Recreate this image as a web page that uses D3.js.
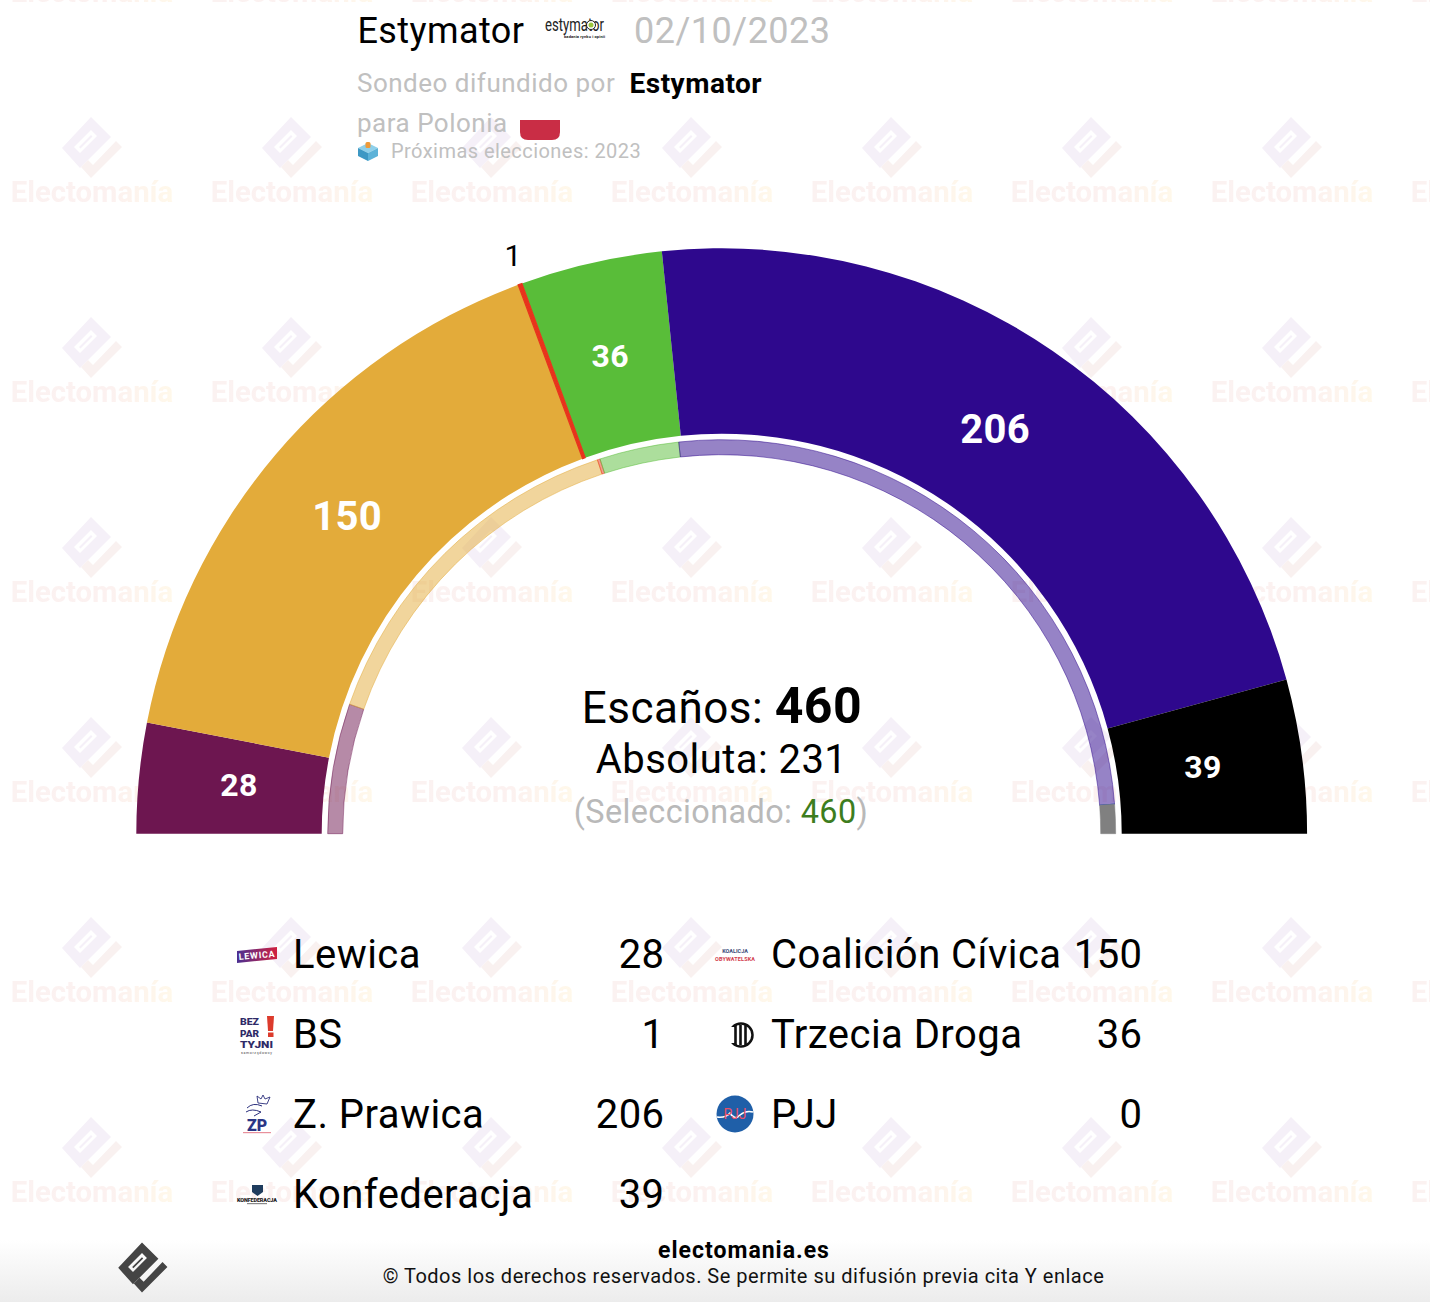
<!DOCTYPE html>
<html>
<head>
<meta charset="utf-8">
<script src="https://cdn.jsdelivr.net/npm/d3@7"></script>
<style>
	html, body { margin: 0; padding: 0; background: #fff; overflow: hidden; }
	text { font-family: Roboto, sans-serif; }
</style>
</head>
<body>
<div id="chart"></div>
<script>
const parties = ["Lewica", "Coalición Cívica", "BS", "Trzecia Droga", "Z. Prawica", "PJJ", "Konfederacja"];
const seats = [28, 150, 1, 36, 206, 0, 39];
const previousSeats = [49, 134, 1, 30, 235, 0, 11];
const colors = ["#6d1650", "#e3ab3a", "#e8341c", "#59bd39", "#2e088d", "#1f5fa8", "#000000"];
const previousColors = ["#6d1650", "#e3ab3a", "#e8341c", "#59bd39", "#2e088d", "#1f5fa8", "#808080"];
const legendLeft = ["Lewica", "BS", "Z. Prawica", "Konfederacja"];
const legendRight = ["Coalición Cívica", "Trzecia Droga", "PJJ"];

const width = 1430, height = 1302;
const cx = 721.7, cy = 833.7;

const svg = d3.select("#chart").append("svg")
	.attr("width", width)
	.attr("height", height)
	.style("display", "block");

const defs = svg.append("defs");

const footGrad = defs.append("linearGradient").attr("id", "foot").attr("x1", 0).attr("x2", 0).attr("y1", 0).attr("y2", 1);
footGrad.append("stop").attr("offset", "0%").attr("stop-color", "#ffffff");
footGrad.append("stop").attr("offset", "100%").attr("stop-color", "#ececec");

const wmGrad = defs.append("linearGradient").attr("id", "wmText").attr("gradientUnits", "userSpaceOnUse")
	.attr("x1", -80).attr("x2", 80).attr("y1", 0).attr("y2", 0);
wmGrad.append("stop").attr("offset", "0%").attr("stop-color", "#fbf2f1");
wmGrad.append("stop").attr("offset", "60%").attr("stop-color", "#fcf1f0");
wmGrad.append("stop").attr("offset", "100%").attr("stop-color", "#fff8ea");

const lewicaGrad = defs.append("linearGradient").attr("id", "lewica");
lewicaGrad.append("stop").attr("offset", "0%").attr("stop-color", "#4a2f92");
lewicaGrad.append("stop").attr("offset", "100%").attr("stop-color", "#d0203f");

// logo outline, centred on 0,0
const logoBody = "M-29,1 L0,-30 L20,-10 L-11,21 Z M-17,0 L0,-17 L6,-11 L-11,6 Z M-12,0 L0,-12 L1.5,-10.5 L-10.5,1.5 Z";
const logoFoot = "M-10,20 L-3,13 L2,18 L25,-6 L31,0 L0,31 Z";

const tile = defs.append("pattern").attr("id", "wm").attr("patternUnits", "userSpaceOnUse")
	.attr("x", -8).attr("y", -53).attr("width", 200).attr("height", 200);
[0, 200].forEach(y => {
	const g = tile.append("g").attr("transform", `translate(100,${y})`);
	g.append("g").attr("transform", "translate(-1,0)").append("path").attr("d", logoBody).attr("fill", "#f5f0f8").attr("fill-rule", "evenodd");
	g.append("g").attr("transform", "translate(-1,0)").append("path").attr("d", logoFoot).attr("fill", "#f9f1f0");
	g.append("text").attr("y", 55).attr("x", 0).attr("text-anchor", "middle")
		.attr("font-size", 29.3).attr("font-weight", 700).attr("fill", "url(#wmText)").text("Electomanía");
});

svg.append("rect").attr("width", width).attr("height", height).attr("fill", "url(#wm)");
svg.append("rect").attr("y", 1240).attr("width", width).attr("height", 62).attr("fill", "url(#foot)");

// header
const header = svg.append("g");
header.append("text").attr("x", 357.5).attr("y", 43).attr("font-size", 36).attr("letter-spacing", 0.4).attr("fill", "#000").text("Estymator");
header.append("text").attr("x", 634).attr("y", 43).attr("font-size", 36).attr("letter-spacing", 0.5).attr("fill", "#c0c0c0").text("02/10/2023");
header.append("text").attr("x", 545).attr("y", 31).attr("font-size", 18).attr("font-family", "Liberation Sans Narrow, Liberation Sans")
	.attr("textLength", 59).attr("lengthAdjust", "spacingAndGlyphs").attr("fill", "#222").text("estymator");
header.append("circle").attr("cx", 591).attr("cy", 25).attr("r", 4.5).attr("fill", "#fff").attr("stroke", "#222").attr("stroke-width", 1);
header.append("circle").attr("cx", 591).attr("cy", 25).attr("r", 2.5).attr("fill", "#9bc63c");
header.append("text").attr("x", 564).attr("y", 38).attr("font-size", 4).attr("font-weight", 700).attr("fill", "#222").attr("textLength", 41).text("badania rynku i opinii");
header.append("text").attr("x", 357).attr("y", 92).attr("font-size", 26).attr("letter-spacing", 0.5).attr("fill", "#c0c0c0").text("Sondeo difundido por");
header.append("text").attr("x", 629.5).attr("y", 93).attr("font-size", 28).attr("font-weight", 700).attr("letter-spacing", 0.5).attr("fill", "#000").text("Estymator");
header.append("text").attr("x", 357).attr("y", 132).attr("font-size", 26).attr("letter-spacing", 0.5).attr("fill", "#c0c0c0").text("para Polonia");
header.append("path").attr("d", "M520,120 H560 V132 Q560,140 552,140 H528 Q520,140 520,132 Z").attr("fill", "#c92d45");
header.append("text").attr("x", 391).attr("y", 158).attr("font-size", 20).attr("letter-spacing", 0.45).attr("fill", "#c0c0c0").text("Próximas elecciones: 2023");
// ballot box icon
header.append("path").attr("d", "M358,148 L368,143 L378,148 L368,153 Z").attr("fill", "#8fd0ea");
header.append("path").attr("d", "M358,148 L368,153 V161 L358,156 Z").attr("fill", "#3d98c4");
header.append("path").attr("d", "M378,148 L368,153 V161 L378,156 Z").attr("fill", "#5cb2d8");
header.append("rect").attr("x", 365.5).attr("y", 142).attr("width", 5).attr("height", 6).attr("rx", 1.5).attr("fill", "#ee9a3a");

// hemicycle
const pie = d3.pie().sort(null).startAngle(-Math.PI / 2).endAngle(Math.PI / 2);
const outerArc = d3.arc().innerRadius(400).outerRadius(585.4);
const innerArc = d3.arc().innerRadius(379).outerRadius(394);
const labelArc = d3.arc().innerRadius(488).outerRadius(488);
const outsideArc = d3.arc().innerRadius(615).outerRadius(615);

const hemi = svg.append("g").attr("transform", `translate(${cx},${cy})`);

hemi.selectAll("path.prev")
	.data(pie(previousSeats))
	.enter().append("path")
	.attr("class", "prev")
	.attr("d", innerArc)
	.attr("fill", (d, i) => previousColors[i])
	.attr("fill-opacity", (d, i) => i === 6 ? 1 : 0.5)
	.attr("stroke", (d, i) => previousColors[i])
	.attr("stroke-width", 0.5);

const arcs = pie(seats);
hemi.selectAll("path.now")
	.data(arcs)
	.enter().append("path")
	.attr("class", "now")
	.attr("d", outerArc)
	.attr("fill", (d, i) => colors[i]);

// the one-seat slice is drawn a bit heavier, as in the original
hemi.selectAll("path.now")
	.filter(d => d.value === 1)
	.attr("stroke", colors[2])
	.attr("stroke-width", 1.2)
	.raise();

hemi.selectAll("text.val")
	.data(arcs.filter(d => d.value > 1))
	.enter().append("text")
	.attr("class", "val")
	.attr("transform", d => `translate(${labelArc.centroid(d)})`)
	.attr("text-anchor", "middle")
	.attr("dx", d => d.index === 0 ? 3 : -2.5)
	.attr("dy", d => d.value > 100 ? "0.3em" : "0.27em")
	.attr("fill", "#fff")
	.attr("font-weight", 700)
	.attr("font-size", d => d.value > 100 ? 40 : 32)
	.attr("letter-spacing", 0.3)
	.text(d => d.value);

hemi.selectAll("text.small")
	.data(arcs.filter(d => d.value === 1))
	.enter().append("text")
	.attr("class", "small")
	.attr("transform", d => `translate(${outsideArc.centroid(d)})`)
	.attr("text-anchor", "middle")
	.attr("dx", 3)
	.attr("dy", "0.33em")
	.attr("font-size", 30)
	.attr("fill", "#000")
	.text(d => d.value);

// centre text
const total = d3.sum(seats);
const centre = svg.append("g").attr("text-anchor", "middle");
const t1 = centre.append("text").attr("x", 722).attr("y", 723).attr("font-size", 44).attr("letter-spacing", 0.5).attr("fill", "#000");
t1.append("tspan").text("Escaños: ");
t1.append("tspan").attr("font-weight", 700).attr("font-size", 50).text(total);
centre.append("text").attr("x", 721.5).attr("y", 773).attr("font-size", 40).attr("letter-spacing", 0.45).attr("fill", "#000").text("Absoluta: " + (Math.floor(total / 2) + 1));
const t3 = centre.append("text").attr("x", 721).attr("y", 823).attr("font-size", 32.4).attr("letter-spacing", 0.4).attr("fill", "#b9b9b9");
t3.append("tspan").text("(Seleccionado: ");
t3.append("tspan").attr("fill", "#3d7d1e").text(total);
t3.append("tspan").text(")");

// legend
const rowY = d3.scalePoint().domain(d3.range(4)).range([968, 1208]);

function drawLegend(names, nameX, valueX) {
	const g = svg.append("g");
	names.forEach((name, i) => {
		g.append("text").attr("x", nameX).attr("y", rowY(i)).attr("font-size", 40).attr("letter-spacing", 0.45).attr("fill", "#000").text(name);
		g.append("text").attr("x", valueX).attr("y", rowY(i)).attr("text-anchor", "end").attr("font-size", 40).attr("letter-spacing", 0.45).attr("fill", "#000")
			.text(seats[parties.indexOf(name)]);
	});
}
drawLegend(legendLeft, 293, 664.5);
drawLegend(legendRight, 771, 1142.5);

// party logos
const logos = svg.append("g");
// Lewica
logos.append("path").attr("d", "M237,951 L277,947 V959 L237,963 Z").attr("fill", "url(#lewica)");
logos.append("text").attr("x", 239).attr("y", 960).attr("font-size", 9).attr("font-weight", 700).attr("fill", "#fff").attr("textLength", 36).attr("transform", "rotate(-5 239 960)").text("LEWICA");
// Bezpartyjni
[["BEZ", 1025, 19], ["PAR", 1036.5, 19], ["TYJNI", 1048, 33]].forEach(d => {
	logos.append("text").attr("x", 240).attr("y", d[1]).attr("font-size", 9.8).attr("font-weight", 900).attr("fill", "#2f2a68")
		.attr("textLength", d[2]).attr("lengthAdjust", "spacingAndGlyphs").text(d[0]);
});
logos.append("path").attr("d", "M267,1016 H274 L273,1031 H268 Z").attr("fill", "#dc3b2c");
logos.append("rect").attr("x", 268).attr("y", 1032.5).attr("width", 5.5).attr("height", 4.5).attr("fill", "#dc3b2c");
logos.append("text").attr("x", 241).attr("y", 1054).attr("font-size", 3.5).attr("fill", "#444").attr("textLength", 31).text("samorządowcy");
// Zjednoczona Prawica
logos.append("path").attr("d", "M258,1103 L257,1096 L261,1099 L263,1095 L265,1099 L270,1097 L267,1104 Z").attr("fill", "none").attr("stroke", "#2b2f7c").attr("stroke-width", 0.9);
logos.append("path").attr("d", "M247,1108 Q253,1102 262,1106 M246,1112 Q252,1108 261,1112 L254,1116").attr("fill", "none").attr("stroke", "#2b2f7c").attr("stroke-width", 1);
logos.append("text").attr("x", 257).attr("y", 1131).attr("text-anchor", "middle").attr("font-size", 16).attr("font-weight", 900).attr("fill", "#2b3585").text("ZP");
logos.append("rect").attr("x", 243).attr("y", 1132).attr("width", 28).attr("height", 1.2).attr("fill", "#d8465a").attr("opacity", 0.6);
// Konfederacja
logos.append("path").attr("d", "M252,1185 H263 V1192 L257.5,1196 L252,1192 Z").attr("fill", "#1f3d5e");
logos.append("text").attr("x", 237).attr("y", 1202).attr("font-size", 5.5).attr("font-weight", 900).attr("fill", "#222").attr("textLength", 40).text("KONFEDERACJA");
logos.append("rect").attr("x", 247).attr("y", 1203).attr("width", 20).attr("height", 1.2).attr("fill", "#888");
// Koalicja Obywatelska
logos.append("text").attr("x", 735).attr("y", 953).attr("text-anchor", "middle").attr("font-size", 5.5).attr("font-weight", 700).attr("fill", "#3a4a78").text("KOALICJA");
logos.append("text").attr("x", 735).attr("y", 961).attr("text-anchor", "middle").attr("font-size", 5.5).attr("font-weight", 700).attr("fill", "#d23c4c").attr("textLength", 40).text("OBYWATELSKA");
// Trzecia Droga
logos.append("circle").attr("cx", 741).attr("cy", 1035).attr("r", 11.5).attr("fill", "none").attr("stroke", "#111").attr("stroke-width", 2.5);
logos.append("rect").attr("x", 727).attr("y", 1027).attr("width", 7).attr("height", 16).attr("fill", "#fff");
[735.5, 740.5, 745.5].forEach(x => logos.append("rect").attr("x", x - 1.3).attr("y", 1025).attr("width", 2.6).attr("height", 20).attr("fill", "#111"));
// PJJ
logos.append("circle").attr("cx", 735).attr("cy", 1114).attr("r", 18.5).attr("fill", "#1f5fa8");
logos.append("path").attr("d", "M717,1117 Q726,1118 730,1113 Q735,1121 740,1115 Q746,1110 753,1112").attr("fill", "none").attr("stroke", "#fff").attr("stroke-width", 1.5);
logos.append("text").attr("x", 735).attr("y", 1119).attr("text-anchor", "middle").attr("font-size", 14).attr("fill", "#e8506a").text("PJJ");

// footer
const footLogo = svg.append("g").attr("transform", "translate(142,1267) scale(0.82)");
footLogo.append("path").attr("d", logoBody).attr("fill", "#444").attr("fill-rule", "evenodd");
footLogo.append("path").attr("d", logoFoot).attr("fill", "#444");
svg.append("text").attr("x", 744).attr("y", 1258).attr("text-anchor", "middle").attr("font-size", 23).attr("font-weight", 700).attr("letter-spacing", 1).attr("fill", "#000").text("electomania.es");
svg.append("text").attr("x", 743.5).attr("y", 1283).attr("text-anchor", "middle").attr("font-size", 20).attr("letter-spacing", 0.5).attr("fill", "#111").text("© Todos los derechos reservados. Se permite su difusión previa cita Y enlace");
</script>
</body>
</html>
